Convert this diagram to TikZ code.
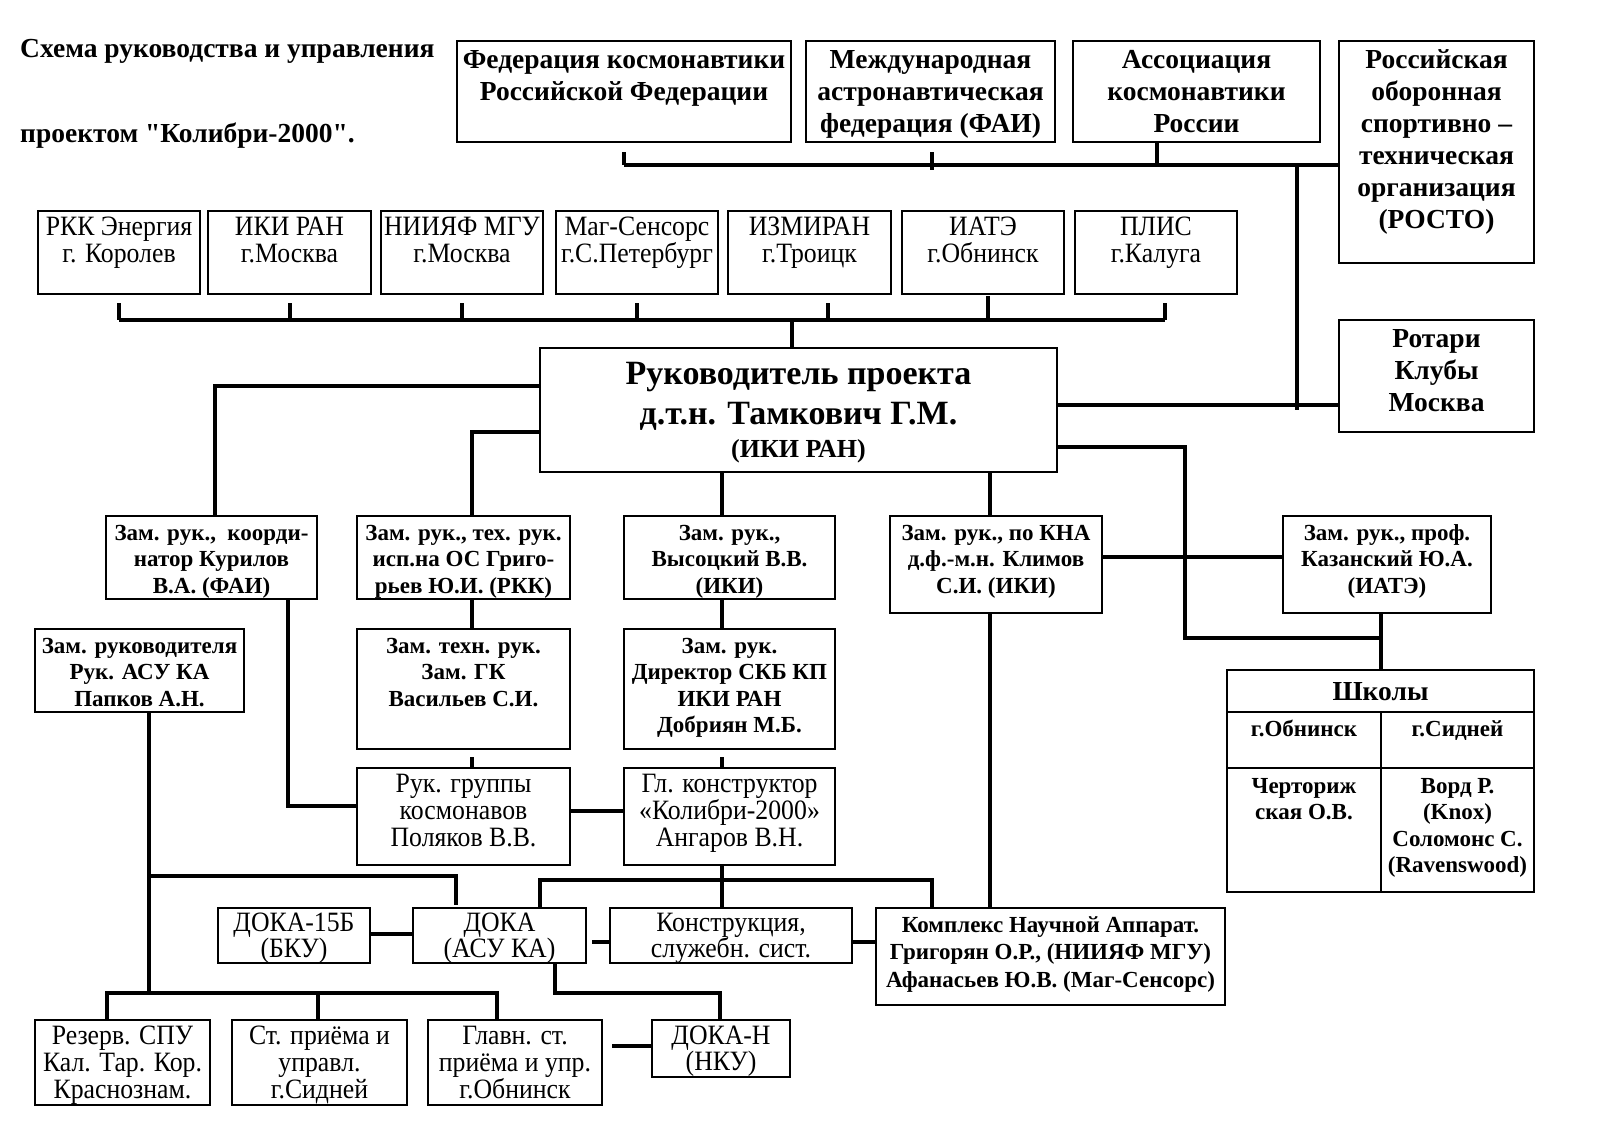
\documentclass[tikz,border=0pt]{standalone}
\usepackage{fontspec}
\setmainfont{Liberation Serif}
\newfontfamily\condf[FakeStretch=0.92]{Liberation Serif}
\newfontfamily\titlef[Ligatures=TeXOff]{Liberation Serif}
\usetikzlibrary{calc}
\newcommand\fA{\fontsize{27.5}{32}\selectfont\bfseries}
\newcommand\fB{\fontsize{23}{26.5}\selectfont\bfseries}
\newcommand\fC{\condf\fontsize{28}{27}\selectfont}
\newcommand\fD{\condf\fontsize{28}{26}\selectfont}
\newcommand\bx[8]{\node[boxst,anchor=north west] (#1) at (#2,#3) {\parbox[c][#5pt][t]{#4pt}{#6\lineskiplimit=-100pt\centering\vskip\dimexpr#7pt-\baselineskip\relax\hbox{}#8\par}};}
\begin{document}
\begin{tikzpicture}[x=1pt,y=-1pt,
  boxst/.style={draw,line width=2pt,inner sep=0pt,outer sep=0pt},
  conn/.style={line width=4pt},
  ttl/.style={anchor=base west,inner sep=0pt,font=\titlef\fontsize{27.5}{32}\selectfont\bfseries}]
\fill[white] (0,0) rectangle (1616,1140);
\useasboundingbox (0,0) rectangle (1616,1140);
% title
\node[ttl] (ttl1) at (20,57) {Схема руководства и управления};
\node[ttl] (ttl2) at (20,142) {проектом "Колибри-2000".};
% top row
\bx{fkrf}{457}{41}{334}{101}{\fA}{27}{Федерация космонавтики\\Российской Федерации}
\bx{fai}{806}{41}{249}{101}{\fA}{27}{Международная\\астронавтическая\\федерация (ФАИ)}
\bx{akr}{1073}{41}{247}{101}{\fA}{27}{Ассоциация\\космонавтики\\России}
\bx{rosto}{1339}{41}{195}{222}{\fA}{27}{Российская\\оборонная\\спортивно –\\техническая\\организация\\(РОСТО)}
\bx{rotary}{1339}{320}{195}{112}{\fA}{27}{Ротари\\Клубы\\Москва}
% institutes
\bx{rkk}{38}{211}{162}{83}{\fC}{24.5}{РКК Энергия\\г. Королев}
\bx{iki}{208}{211}{163}{83}{\fC}{24.5}{ИКИ РАН\\г.Москва}
\bx{nii}{381}{211}{162}{83}{\fC}{24.5}{НИИЯФ МГУ\\г.Москва}
\bx{mag}{556}{211}{162}{83}{\fC}{24.5}{Маг-Сенсорс\\г.С.Петербург}
\bx{izm}{728}{211}{163}{83}{\fC}{24.5}{ИЗМИРАН\\г.Троицк}
\bx{iate}{902}{211}{162}{83}{\fC}{24.5}{ИАТЭ\\г.Обнинск}
\bx{plis}{1075}{211}{162}{83}{\fC}{24.5}{ПЛИС\\г.Калуга}
% main
\bx{main}{540}{348}{517}{124}{\fontsize{34}{40}\selectfont\bfseries}{36}{Руководитель проекта\\д.т.н. Тамкович Г.М.\par\fontsize{26}{33}\selectfont (ИКИ РАН)}
% deputies
\bx{kur}{106}{516}{211}{83}{\fB}{24}{Зам. рук.,\ \ коорди-\\натор Курилов\\В.А. (ФАИ)}
\bx{gri}{357}{516}{213}{83}{\fB}{24}{Зам. рук., тех. рук.\\исп.на ОС Григо-\\рьев Ю.И. (РКК)}
\bx{vys}{624}{516}{211}{83}{\fB}{24}{Зам. рук.,\\Высоцкий В.В.\\(ИКИ)}
\bx{kli}{890}{516}{212}{97}{\fB}{24}{Зам. рук., по КНА\\д.ф.-м.н. Климов\\С.И. (ИКИ)}
\bx{kaz}{1283}{516}{208}{97}{\fB}{24}{Зам. рук., проф.\\Казанский Ю.А.\\(ИАТЭ)}
\bx{pap}{35}{629}{209}{83}{\fB}{24}{Зам. руководителя\\Рук. АСУ КА\\Папков А.Н.}
\bx{vas}{357}{629}{213}{120}{\fB}{24}{Зам. техн. рук.\\Зам. ГК\\Васильев С.И.}
\bx{dob}{624}{629}{211}{120}{\fB}{24}{Зам. рук.\\Директор СКБ КП\\ИКИ РАН\\Добриян М.Б.}
\bx{ruk}{357}{768}{213}{97}{\fC}{24.5}{Рук. группы\\космонавов\\Поляков В.В.}
\bx{ang}{624}{768}{211}{97}{\fC}{24.5}{Гл. конструктор\\«Колибри-2000»\\Ангаров В.Н.}
\bx{dk15}{218}{908}{152}{55}{\fD}{23}{ДОКА-15Б\\(БКУ)}
\bx{doka}{413}{908}{173}{55}{\fD}{23}{ДОКА\\(АСУ КА)}
\bx{kon}{610}{908}{242}{55}{\fD}{23}{Конструкция,\\служебн. сист.}
\bx{kom}{876}{908}{349}{97}{\fontsize{23}{27.5}\selectfont\bfseries}{24}{Комплекс Научной Аппарат.\\Григорян О.Р., (НИИЯФ МГУ)\\Афанасьев Ю.В. (Маг-Сенсорс)}
\bx{rez}{35}{1020}{175}{85}{\fC}{24.5}{Резерв. СПУ\\Кал. Тар. Кор.\\Краснознам.}
\bx{stp}{232}{1020}{175}{85}{\fC}{24.5}{Ст. приёма и\\управл.\\г.Сидней}
\bx{glv}{428}{1020}{174}{85}{\fC}{24.5}{Главн. ст.\\приёма и упр.\\г.Обнинск}
\bx{dkn}{652}{1020}{138}{57}{\fD}{24.5}{ДОКА-Н\\(НКУ)}
% schools table
\bx{sch}{1227}{670}{307}{42}{\fontsize{27.5}{32}\selectfont\bfseries}{30}{Школы}
\bx{sob}{1227}{712}{154}{56}{\fB}{24}{г.Обнинск}
\bx{ssy}{1381}{712}{153}{56}{\fB}{24}{г.Сидней}
\bx{sc1}{1227}{768}{154}{124}{\fB}{25}{Черториж\\ская О.В.}
\bx{sc2}{1381}{768}{153}{124}{\fB}{25}{Ворд Р.\\(Knox)\\Соломонс С.\\(Ravenswood)}
% ---- connectors ----
\coordinate (busT) at (0,165);
\coordinate (akrT) at (1157,165);
\coordinate (vR) at (1297,165);
\coordinate (vR2) at (1297,410);
\coordinate (rr) at (0,405);
\draw[conn] (fkrf.south |- busT) -- (rosto.west |- busT);
\draw[conn] ($(fkrf.south)+(0,10)$) -- (fkrf.south |- busT);
\draw[conn] ($(fai.south)+(1.5,10)$) -- ($(fai.south |- busT)+(1.5,5)$);
\draw[conn] (akrT |- akr.south) -- (akrT);
\draw[conn] (vR) -- (vR2);
\draw[conn] (main.east |- rr) -- (rotary.west |- rr);
% institutes bus
\coordinate (busI) at (0,320);
\coordinate (izmT) at (828,320);
\coordinate (iateT) at (988,320);
\coordinate (plisT) at (1165,320);
\coordinate (mT) at (792,320);
\draw[conn] (rkk.south |- busI) -- (plisT);
\draw[conn] ($(rkk.south)+(0,9)$) -- (rkk.south |- busI);
\draw[conn] ($(iki.south)+(0,9)$) -- (iki.south |- busI);
\draw[conn] ($(nii.south)+(0,9)$) -- (nii.south |- busI);
\draw[conn] ($(mag.south)+(0,9)$) -- (mag.south |- busI);
\draw[conn] ($(izmT |- izm.south)+(0,9)$) -- (izmT);
\draw[conn] ($(iateT |- iate.south)+(0,2)$) -- (iateT);
\draw[conn] ($(plisT |- plis.south)+(0,9)$) -- (plisT);
\draw[conn] (mT) -- (mT |- main.north);
% main to deputies
\coordinate (k1) at (215,386);
\coordinate (g1) at (472,432);
\coordinate (v1) at (722,472);
\coordinate (c1) at (990,472);
\coordinate (r1) at (1185,447);
\coordinate (r2) at (1185,638);
\coordinate (kk) at (0,557);
\draw[conn] (main.west |- k1) -- (k1) -- (k1 |- kur.north);
\draw[conn] (main.west |- g1) -- (g1) -- (g1 |- gri.north);
\draw[conn] (v1 |- main.south) -- (v1 |- vys.north);
\draw[conn] (c1 |- main.south) -- (c1 |- kli.north);
\draw[conn] (main.east |- r1) -- (r1) -- (r2) -- (sch.north |- r2);
\draw[conn] (sch.north |- kaz.south) -- (sch.north);
\draw[conn] (kli.east |- kk) -- (kaz.west |- kk);
\draw[conn] (g1 |- gri.south) -- (g1 |- vas.north);
\draw[conn] (v1 |- vys.south) -- (v1 |- dob.north);
\draw[conn] ($(g1 |- vas.south)+(0,8)$) -- (g1 |- ruk.north);
\draw[conn] ($(v1 |- dob.south)+(0,8)$) -- (v1 |- ang.north);
\coordinate (ku) at (288,806);
\coordinate (ra) at (0,811);
\draw[conn] (ku |- kur.south) -- (ku) -- (ruk.west |- ku);
\draw[conn] (ruk.east |- ra) -- (ang.west |- ra);
\draw[conn] (c1 |- kli.south) -- (c1 |- kom.north);
% Papkov branch
\coordinate (p1) at (149,993);
\coordinate (p2) at (149,876);
\coordinate (p3) at (456,876);
\draw[conn] (p1 |- pap.south) -- (p1);
\draw[conn] (p2) -- (p3) -- ($(p3 |- doka.north)+(0,-3)$);
\coordinate (bb1) at (107,993);
\coordinate (bb2) at (318,993);
\coordinate (bb3) at (497,993);
\draw[conn] (bb1 |- rez.north) -- (bb1) -- (bb3) -- (bb3 |- glv.north);
\draw[conn] (bb2) -- (bb2 |- stp.north);
% lower group
\coordinate (dd) at (0,934);
\coordinate (dk) at (0,942);
\draw[conn] (dk15.east |- dd) -- (doka.west |- dd);
\draw[conn] ($(doka.east |- dk)+(6,0)$) -- (kon.west |- dk);
\draw[conn] (kon.east |- dk) -- (kom.west |- dk);
\coordinate (dn1) at (555,993);
\coordinate (dn2) at (720,993);
\draw[conn] (dn1 |- doka.south) -- (dn1) -- (dn2) -- (dn2 |- dkn.north);
\coordinate (gd) at (0,1046);
\draw[conn] ($(glv.east |- gd)+(10,0)$) -- (dkn.west |- gd);
\draw[conn] (v1 |- ang.south) -- (v1 |- kon.north);
\coordinate (a1) at (540,880);
\coordinate (a2) at (932,880);
\draw[conn] (a1 |- doka.north) -- (a1) -- (a2) -- (a2 |- kom.north);
\end{tikzpicture}
\end{document}
